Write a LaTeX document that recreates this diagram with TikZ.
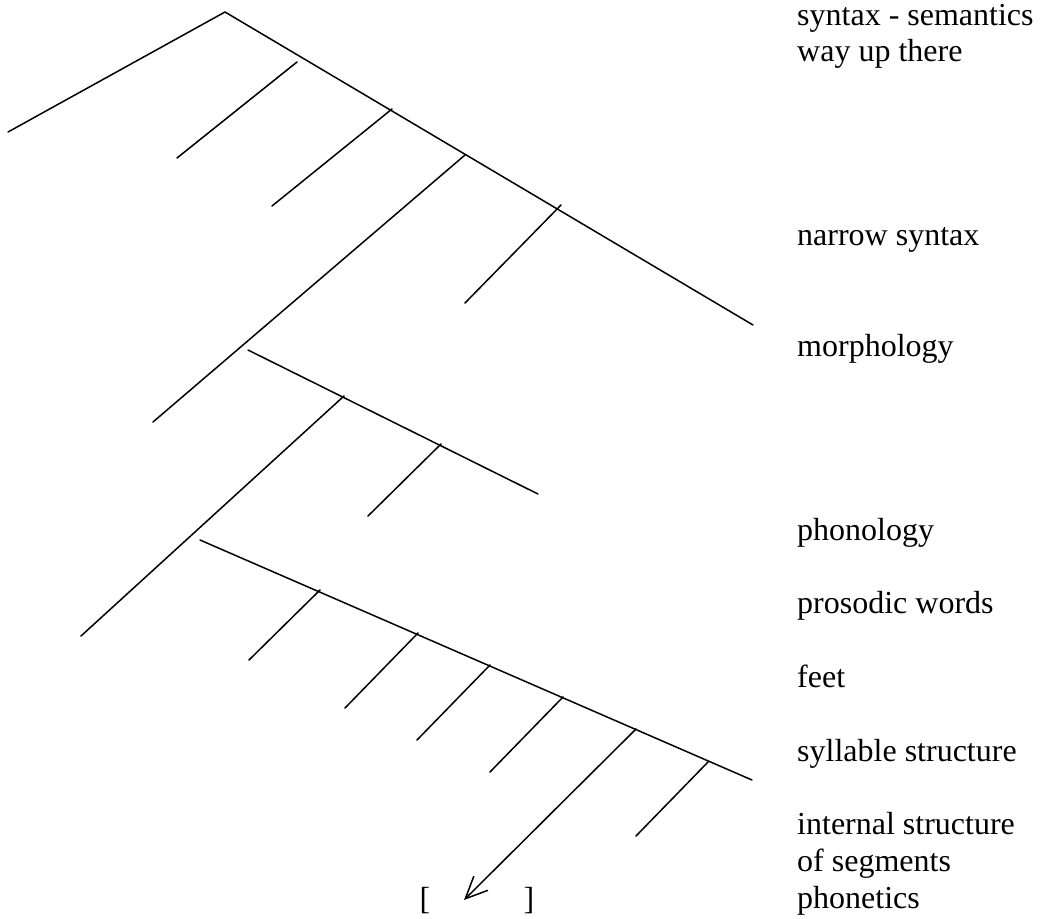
\documentclass[tikz,border=0pt]{standalone}
\usepackage{fontspec}
\setmainfont{Liberation Serif}
\usetikzlibrary{arrows.meta}
\begin{document}
\begin{tikzpicture}[x=1pt,y=-1pt,
  branch/.style={line width=1.5pt, line cap=round},
  lbl/.style={anchor=base west, inner sep=0pt, font=\fontsize{32}{36.8}\selectfont},
  brk/.style={anchor=base, inner sep=0pt, font=\fontsize{32}{36.8}\selectfont},
  openarrow/.style={-{Straight Barb[length=22pt,width=20pt,line width=1.5pt]}}]
\useasboundingbox (0,0) rectangle (1040,918);
% upper tree
\coordinate (apex) at (225,12);
\coordinate (lend) at (8,132);
\coordinate (rend) at (753,325);
\coordinate (b1t) at (297,62);   \coordinate (b1b) at (177,158);
\coordinate (b2t) at (392,109);  \coordinate (b2b) at (272,206);
\coordinate (b3t) at (465,155);  \coordinate (b3b) at (153,422);
\coordinate (b4t) at (561,205);  \coordinate (b4b) at (465,303);
% middle tree
\coordinate (ms) at (248,350);   \coordinate (me) at (538,494);
\coordinate (mat) at (344,396);  \coordinate (mab) at (81,636);
\coordinate (mbt) at (441,444);  \coordinate (mbb) at (368,516);
% lower tree
\coordinate (ls) at (200,540);   \coordinate (le) at (752,780);
\coordinate (t1t) at (320,590);  \coordinate (t1b) at (249,660);
\coordinate (t2t) at (418,633);  \coordinate (t2b) at (345,708);
\coordinate (t3t) at (490,665);  \coordinate (t3b) at (417,740);
\coordinate (t4t) at (563,697);  \coordinate (t4b) at (490,772);
\coordinate (t5t) at (636,729);  \coordinate (tip) at (464,900);
\coordinate (t6t) at (708,762);  \coordinate (t6b) at (636,836);

\draw[branch] (lend) -- (apex) -- (rend);
\draw[branch] (b1t) -- (b1b);
\draw[branch] (b2t) -- (b2b);
\draw[branch] (b3t) -- (b3b);
\draw[branch] (b4t) -- (b4b);
\draw[branch] (ms) -- (me);
\draw[branch] (mat) -- (mab);
\draw[branch] (mbt) -- (mbb);
\draw[branch] (ls) -- (le);
\draw[branch] (t1t) -- (t1b);
\draw[branch] (t2t) -- (t2b);
\draw[branch] (t3t) -- (t3b);
\draw[branch] (t4t) -- (t4b);
\draw[branch,openarrow] (t5t) -- (tip);
\draw[branch] (t6t) -- (t6b);

% brackets
\node[brk] (lb) at (425,909) {[};
\node[brk] (rb) at (529,909) {]};

% labels
\node[lbl] (l1) at (797,25) {syntax - semantics};
\node[lbl] (l2) at (797,61.8) {way up there};
\node[lbl] (l3) at (797,245.8) {narrow syntax};
\node[lbl] (l4) at (797,356.2) {morphology};
\node[lbl] (l5) at (797,540.2) {phonology};
\node[lbl] (l6) at (797,613.8) {prosodic words};
\node[lbl] (l7) at (797,687.4) {feet};
\node[lbl] (l8) at (797,761) {syllable structure};
\node[lbl] (l9) at (797,834.6) {internal structure};
\node[lbl] (l10) at (797,871.4) {of segments};
\node[lbl] (l11) at (797,908.2) {phonetics};
\end{tikzpicture}
\end{document}
